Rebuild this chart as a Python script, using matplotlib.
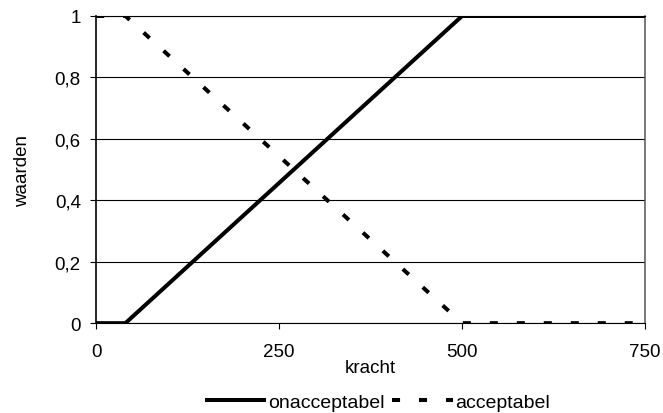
import matplotlib.pyplot as plt

plt.rcParams['font.family'] = ['Liberation Sans', 'DejaVu Sans']

# data
kracht_on = [0, 40, 500, 750]
onacceptabel = [0, 0, 1, 1]
kracht_ac = [0, 40, 500, 750]
acceptabel = [1, 1, 0, 0]
xticks = [0, 250, 500, 750]
yticks = [0, 0.2, 0.4, 0.6, 0.8, 1]
ylabels = ['0', '0,2', '0,4', '0,6', '0,8', '1']

fig = plt.figure(figsize=(6.63, 4.14), dpi=100)
ax = fig.add_axes([0.145, 0.217, 0.828, 0.742])

for y in yticks:
    ax.axhline(y, color='black', linewidth=0.8, zorder=1)

ax.plot(kracht_on, onacceptabel, color='black', linewidth=2.9, solid_capstyle='butt',
        label='onacceptabel', zorder=3)
ax.plot(kracht_ac, acceptabel, color='black', linewidth=2.9, linestyle=(0, (2, 4.7)),
        dash_capstyle='butt', label='acceptabel', zorder=3)

ax.set_xlim(0, 750)
ax.set_ylim(0, 1)
ax.set_xticks(xticks)
ax.set_xticklabels([str(x) for x in xticks])
ax.set_yticks(yticks)
ax.set_yticklabels(ylabels)
ax.tick_params(axis='both', direction='out', length=4.5, width=0.8, labelsize=13.5)
ax.tick_params(axis='y', pad=6.5)
ax.tick_params(axis='x', pad=10)
for s in ax.spines.values():
    s.set_linewidth(0.8)
ax.spines['left'].set_linewidth(1.2)
ax.spines['right'].set_color('#555555')
ax.spines['right'].set_linewidth(1.1)
ax.set_xlabel('kracht', fontsize=13.5, labelpad=-1)
ax.set_ylabel('waarden', fontsize=13.5, labelpad=17)

fig.legend(loc='center', bbox_to_anchor=(0.569, 0.027), ncol=2, frameon=False,
           fontsize=14, handlelength=3.15, columnspacing=0.36, handletextpad=0.1)

fig.savefig('out.png', dpi=100)
